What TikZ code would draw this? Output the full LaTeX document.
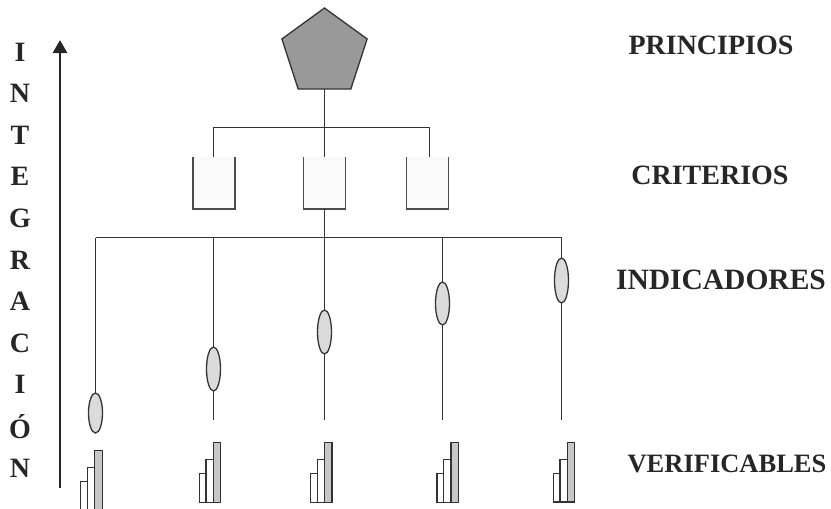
\documentclass[tikz,border=0pt]{standalone}
\usepackage{fontspec}
\setmainfont{Liberation Serif}
\usetikzlibrary{shapes.geometric,arrows.meta}
\tikzset{
  lbl/.style={font=\bfseries\fontsize{28}{28}\selectfont, text=black!85, inner sep=0pt, anchor=center},
  vlet/.style={font=\bfseries\fontsize{28}{28}\selectfont, text=black!85, inner sep=0pt, anchor=center},
  conn/.style={draw=black!80, line width=1.4pt},
  crit/.style={minimum width=42pt, minimum height=52pt, inner sep=0pt, outer sep=0pt, fill=black!2},
  critside/.style={draw=black!70, line width=1.5pt},
  ind/.style={ellipse, draw=black!80, line width=1.3pt, fill=black!14, minimum width=14pt, inner sep=0pt, outer sep=0pt},
  barw/.style={draw=black!80, line width=1.3pt, fill=white},
  barg/.style={draw=black!80, line width=1.3pt, fill=black!22},
}
\newcommand{\chart}[4]{% #1 left x, #2 bottom y, #3 shift of tops, #4 name
  \path[barw] (#1,#2) rectangle (#1+6.8,{473.3+#3});
  \path[barw] (#1+6.8,#2) rectangle (#1+14,{459.8+#3});
  \path[barg] (#1+14,#2) rectangle (#1+21.5,{442.7+#3});
}
\begin{document}
\begin{tikzpicture}[x=1pt,y=-1pt]
\useasboundingbox (0,0) rectangle (831,509);
% principle
\node[regular polygon, regular polygon sides=5, minimum size=89.6pt, inner sep=0pt, outer sep=0pt,
      draw=black!80, line width=1.3pt, fill=black!40] (pent) at (324.5,52.8) {};
% criteria
\node[crit] (c1) at (214,183) {};
\node[crit] (c2) at (324.5,183) {};
\node[crit] (c3) at (427.5,183) {};
\foreach \c in {c1,c2,c3}
  \draw[critside] (\c.north west) -- (\c.south west) -- (\c.south east) -- (\c.north east);
\coordinate (b1) at (324.5,127.5);
\coordinate (b1l) at (213.5,127.5);
\coordinate (b1r) at (429.5,127.5);
\draw[conn] (pent.south) -- (b1);
\draw[conn] (b1l |- c1.north) -- (b1l) -- (b1r) -- (b1r |- c3.north);
\draw[conn] (b1) -- (c2.north);
% indicators
\coordinate (b2) at (324.5,237.5);
\coordinate (b2l) at (95.5,237.5);
\coordinate (b2r) at (561.5,237.5);
\draw[conn] (c2.south) -- (b2);
\draw[conn] (b2l) -- (b2r);
\node[ind, minimum height=40pt] (e1) at (95.5,413) {};
\node[ind, minimum height=44pt] (e2) at (213.5,369) {};
\node[ind, minimum height=44pt] (e3) at (324.5,332) {};
\node[ind, minimum height=43pt] (e4) at (442.5,303.5) {};
\node[ind, minimum height=45pt] (e5) at (561.5,280.5) {};
\coordinate (t2) at (213.5,420);
\coordinate (t3) at (324.5,420);
\coordinate (t4) at (442.5,420);
\coordinate (t5) at (561.5,420);
\foreach \e in {e1,e2,e3,e4,e5}
  \draw[conn] (\e.north |- b2) -- (\e.north);
\foreach \e/\t in {e2/t2,e3/t3,e4/t4,e5/t5}
  \draw[conn] (\e.south) -- (\t);
% verifiables
\chart{80.7}{512}{8}{v1}
\chart{199.3}{502.7}{0}{v2}
\chart{310.5}{502.7}{0}{v3}
\chart{437}{502.7}{0}{v4}
\chart{553.3}{502}{0}{v5}
% arrow
\coordinate (ab) at (60,488);
\coordinate (at) at (60,40);
\draw[line width=2.6pt, black!85, -{Triangle[width=14pt,length=13pt]}] (ab) -- (at);
% vertical word
\foreach \l [count=\i from 0] in {I,N,T,E,G,R,A,C,I,Ó,N}
  \node[vlet] (w\i) at (20,{52+41.6*\i}) {\l};
% labels
\node[lbl] (lp) at (711,45) {PRINCIPIOS};
\node[lbl] (lc) at (710,175) {CRITERIOS};
\node[lbl, font=\bfseries\fontsize{29.5}{29.5}\selectfont] (li) at (721,280) {INDICADORES};
\node[lbl, font=\bfseries\fontsize{26.5}{26.5}\selectfont] (lv) at (727,464) {VERIFICABLES};
\end{tikzpicture}
\end{document}
